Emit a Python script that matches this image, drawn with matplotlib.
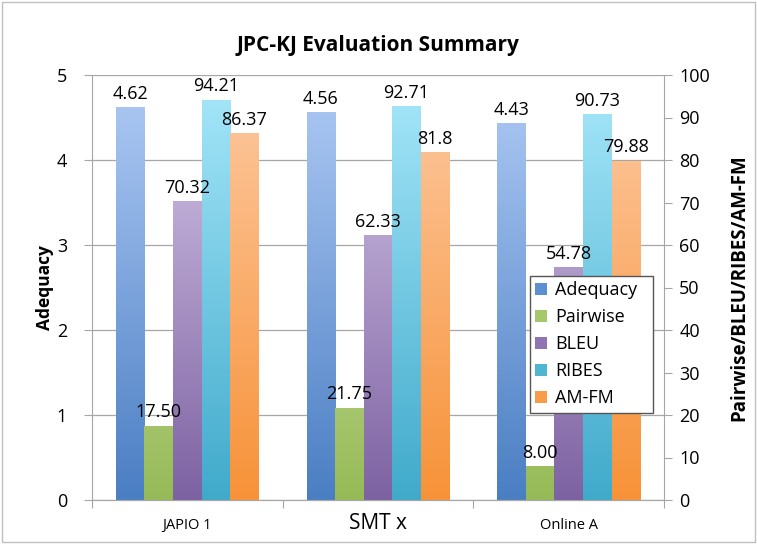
import numpy as np
import matplotlib.pyplot as plt
from matplotlib.colors import LinearSegmentedColormap
from matplotlib.patches import Patch

plt.rcParams['font.family'] = ['Open Sans', 'DejaVu Sans']

# === Data ===
systems = ["JAPIO 1", "SMT x", "Online A"]
adequacy = [4.62, 4.56, 4.43]
pairwise = [17.50, 21.75, 8.00]
bleu = [70.32, 62.33, 54.78]
ribes = [94.21, 92.71, 90.73]
amfm = [86.37, 81.8, 79.88]

adequacy_txt = ["4.62", "4.56", "4.43"]
pairwise_txt = ["17.50", "21.75", "8.00"]
bleu_txt = ["70.32", "62.33", "54.78"]
ribes_txt = ["94.21", "92.71", "90.73"]
amfm_txt = ["86.37", "81.8", "79.88"]

# (top colour, bottom colour, legend colour)
colors = {
    "Adequacy": ("#b0cbf5", "#4a7ec3", "#5b8fd0"),
    "Pairwise": ("#ddf0bd", "#96ba57", "#a5c86a"),
    "BLEU": ("#d8c9ea", "#7d62a2", "#8e74b2"),
    "RIBES": ("#a8e8fa", "#40aacb", "#4fb6d2"),
    "AM-FM": ("#fdcaa2", "#f79238", "#f89c4a"),
}

fig = plt.figure(figsize=(7.57, 5.44), dpi=100)
ax = fig.add_axes([92 / 757, 44 / 544, 572 / 757, 425 / 544])
ax2 = ax.twinx()

x = np.arange(len(systems))
w = 0.15


def grad_bars(axis, xs, vals, top, bottom, ymax):
    cmap = LinearSegmentedColormap.from_list("g", [bottom, top])
    bars = axis.bar(xs, vals, w, color="none", edgecolor="none", zorder=2)
    for b in bars:
        x0 = b.get_x()
        img = axis.imshow(np.linspace(0, 1, 256).reshape(-1, 1), cmap=cmap,
                          origin="lower", aspect="auto",
                          extent=[x0, x0 + b.get_width(), 0, ymax], zorder=2)
        img.set_clip_path(b)
    return bars


def labels(axis, xs, vals, txts):
    for xi, v, t in zip(xs, vals, txts):
        axis.annotate(t, (xi, v), xytext=(0, 3), textcoords="offset points",
                      ha="center", va="bottom", fontsize=13, zorder=5)


offs = [-2, -1, 0, 1, 2]
grad_bars(ax, x + offs[0] * w, adequacy, *colors["Adequacy"][:2], 5)
grad_bars(ax2, x + offs[1] * w, pairwise, *colors["Pairwise"][:2], 100)
grad_bars(ax2, x + offs[2] * w, bleu, *colors["BLEU"][:2], 100)
grad_bars(ax2, x + offs[3] * w, ribes, *colors["RIBES"][:2], 100)
grad_bars(ax2, x + offs[4] * w, amfm, *colors["AM-FM"][:2], 100)

labels(ax, x + offs[0] * w, adequacy, adequacy_txt)
labels(ax2, x + offs[1] * w, pairwise, pairwise_txt)
labels(ax2, x + offs[2] * w, bleu, bleu_txt)
labels(ax2, x + offs[3] * w, ribes, ribes_txt)
labels(ax2, x + offs[4] * w, amfm, amfm_txt)

ax.set_xlim(-0.5, 2.5)
ax.set_ylim(0, 5)
ax2.set_ylim(0, 100)
ax.set_yticks(range(6))
ax2.set_yticks(range(0, 101, 10))
ax.grid(axis="y", color="#a6a6a6", linewidth=0.9, zorder=0)
ax.set_axisbelow(True)

for a in (ax, ax2):
    a.spines["top"].set_visible(False)
    for s in ("left", "right", "bottom"):
        a.spines[s].set_color("#a6a6a6")

ax.tick_params(axis="y", colors="#a6a6a6", labelcolor="black",
               labelsize=13, length=6, pad=12)
ax2.tick_params(axis="y", colors="#a6a6a6", labelcolor="black",
                labelsize=13, length=6, pad=5)

ax.spines["right"].set_visible(False)
ax2.spines["left"].set_visible(False)

# category boundary ticks on x, names in between
ax.set_xticks([-0.5, 0.5, 1.5, 2.5])
ax.set_xticklabels([])
ax.set_xticks(x, minor=True)
ax.set_xticklabels(systems, minor=True)
ax.tick_params(axis="x", which="major", length=6, colors="#a6a6a6")
ax.tick_params(axis="x", which="minor", length=0, pad=13, labelsize=10.5)
for lbl in ax.get_xticklabels(minor=True):
    if lbl.get_text() == "SMT x":
        lbl.set_fontsize(15)
        lbl.set_y(0.012)

ax.set_ylabel("Adequacy", fontsize=12.5, fontweight="bold", labelpad=2)
ax2.set_ylabel("Pairwise/BLEU/RIBES/AM-FM", fontsize=13.5, fontweight="bold",
               labelpad=14)
ax.set_title("JPC-KJ Evaluation Summary", fontsize=15, fontweight="bold", pad=17)

handles = [Patch(facecolor=c[2], edgecolor="none", label=k)
           for k, c in colors.items()]
leg = ax2.legend(handles=handles, loc="lower left",
                 bbox_to_anchor=(0.765, 0.205, 0.215, 0.325), mode="expand",
                 fontsize=13, frameon=True, fancybox=False, borderpad=0.3,
                 borderaxespad=0, handlelength=0.65, handleheight=0.65,
                 handletextpad=0.45, labelspacing=0.5)
leg.get_frame().set_edgecolor("#555555")
leg.get_frame().set_linewidth(1.0)
leg.get_frame().set_alpha(1)
leg.set_zorder(10)

fig.patches.append(plt.Rectangle((0.003, 0.003), 0.994, 0.994,
                                 transform=fig.transFigure, fill=False,
                                 edgecolor="#bfbfbf", linewidth=1))

fig.savefig("out.png", dpi=100)
